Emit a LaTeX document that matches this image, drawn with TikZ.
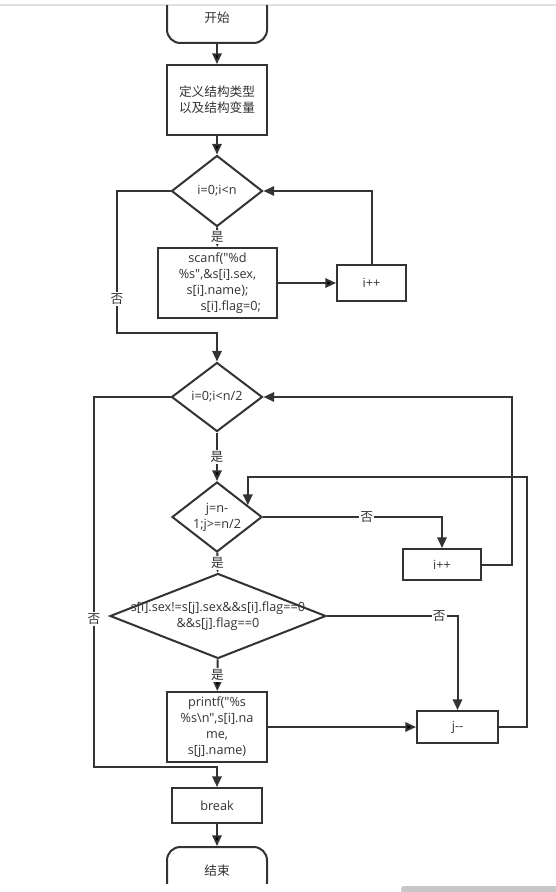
\documentclass[tikz,border=0pt]{standalone}
\usepackage{fontspec}
\setmainfont{Open Sans}[Ligatures=TeXOff]
\newfontfamily\cjk{Noto Sans CJK SC}[Ligatures=TeXOff]
\usetikzlibrary{shapes.geometric,arrows.meta,calc}
\definecolor{ink}{HTML}{333333}
\newcommand{\dtext}[1]{\makebox[0pt]{\begin{tabular}{@{}c@{}}#1\end{tabular}}}
\begin{document}
\begin{tikzpicture} [
                x=0.75pt, y=-0.75pt,
                font=\fontsize{9.5pt}{12pt}\selectfont, text=ink,
                terminal/.style={draw=ink,line width=1.5pt,rounded corners=10pt,minimum width=75pt,minimum height=37.5pt,inner sep=0pt,font=\fontsize{9.5pt}{12pt}\selectfont\cjk},
                process/.style={draw=ink,line width=1.5pt,align=center,inner sep=0pt},
                decision/.style={diamond,draw=ink,line width=1.5pt,inner sep=0pt,aspect=1},
                arrow edge/.style = {draw=ink,line width=1.5pt,-{Triangle[length=8pt,width=7pt]}},
                tag/.style = {fill=white,inner sep=1pt,font=\fontsize{9.5pt}{12pt}\selectfont\cjk},
            ]
            \fill[white] (0,0) rectangle (556,892);
            \useasboundingbox (0,0) rectangle (556,892);
            \draw[black!12,line width=1pt] (0,5) -- (556,5);
            \fill[black!22,rounded corners=2pt] (401,886) rectangle (560,893);
            \begin{scope}
            \clip (0,6) rectangle (556,883);
            \node[terminal] (start) at (217,18) {开始};
            \node[process,minimum width=75pt,minimum height=52.5pt,font=\fontsize{9.5pt}{12pt}\selectfont\cjk] (def) at (217,100) {定义结构类型\\以及结构变量};
            \node[decision,minimum width=68.25pt,minimum height=53.25pt] (loopa) at (217,191) {\dtext{i=0;i<n}};
            \node[process,minimum width=89.25pt,minimum height=52.5pt] (scan) at (217.5,283)
                {scanf("\%d\\\%s",\&s[i].sex,\\s[i].name);\\\hspace*{20pt}s[i].flag=0;};
            \node[process,minimum width=51.75pt,minimum height=27pt] (inca) at (371.5,283) {i++};
            \node[decision,minimum width=68.25pt,minimum height=51.75pt] (loopb) at (217,397) {\dtext{i=0;i<n/2}};
            \node[decision,minimum width=67.5pt,minimum height=52.5pt] (loopc) at (217,517) {\dtext{j=n-\\1;j>=n/2}};
            \node[process,minimum width=58.5pt,minimum height=23.25pt] (incb) at (442,564.5) {i++};
            \node[decision,minimum width=162pt,minimum height=63.75pt] (cond) at (218,616)
                {\dtext{s[i].sex!=s[j].sex\&\&s[i].flag==0\\\&\&s[j].flag==0}};
            \node[process,minimum width=75pt,minimum height=52.5pt] (prt) at (217,727)
                {printf("\%s\\\%s\textbackslash n",s[i].na\\me,\\s[j].name)};
            \node[process,minimum width=60.75pt,minimum height=24pt] (dec) at (457.5,727) {j-{}-};
            \node[process,minimum width=67.5pt,minimum height=26.25pt] (brk) at (217,805.5) {break};
            \node[terminal,minimum height=36pt] (stop) at (217,871) {结束};
            % bend points of the loops
            \coordinate (na) at (117,333);
            \coordinate (nb) at (94,767);
            \coordinate (ra) at (527,477);
            \coordinate (rb) at (512,397);
            \coordinate (cin) at ($(loopc.north)!0.67!(loopc.east)$);
            \foreach \source/ \dest in {
                    start/def,def/loopa,scan/inca,prt/dec,brk/stop}
                \path[arrow edge] (\source) edge (\dest);
            \foreach \source/ \dest in {
                    loopa/scan,loopb/loopc,loopc/cond,cond/prt}
                \path[arrow edge] (\source) edge node[tag] {是} (\dest);
            \draw[arrow edge] (inca.north) |- (loopa.east);
            \draw[arrow edge] (loopa.west) -| node[tag,pos=0.88] {否} (na) -| (loopb.north);
            \draw[arrow edge] (loopc.east) -| node[tag,pos=0.29] {否} (incb.north);
            \draw[arrow edge] (incb.east) -| (rb) -- (loopb.east);
            \draw[arrow edge] (cond.east) -| node[tag,pos=0.43] {否} (dec.north);
            \draw[arrow edge] (dec.east) -| (ra) -| (cin);
            \draw[arrow edge] (loopb.west) -| node[tag,pos=0.8] {否} (nb) -| (brk.north);
            \end{scope}
        \end{tikzpicture}
\end{document}
